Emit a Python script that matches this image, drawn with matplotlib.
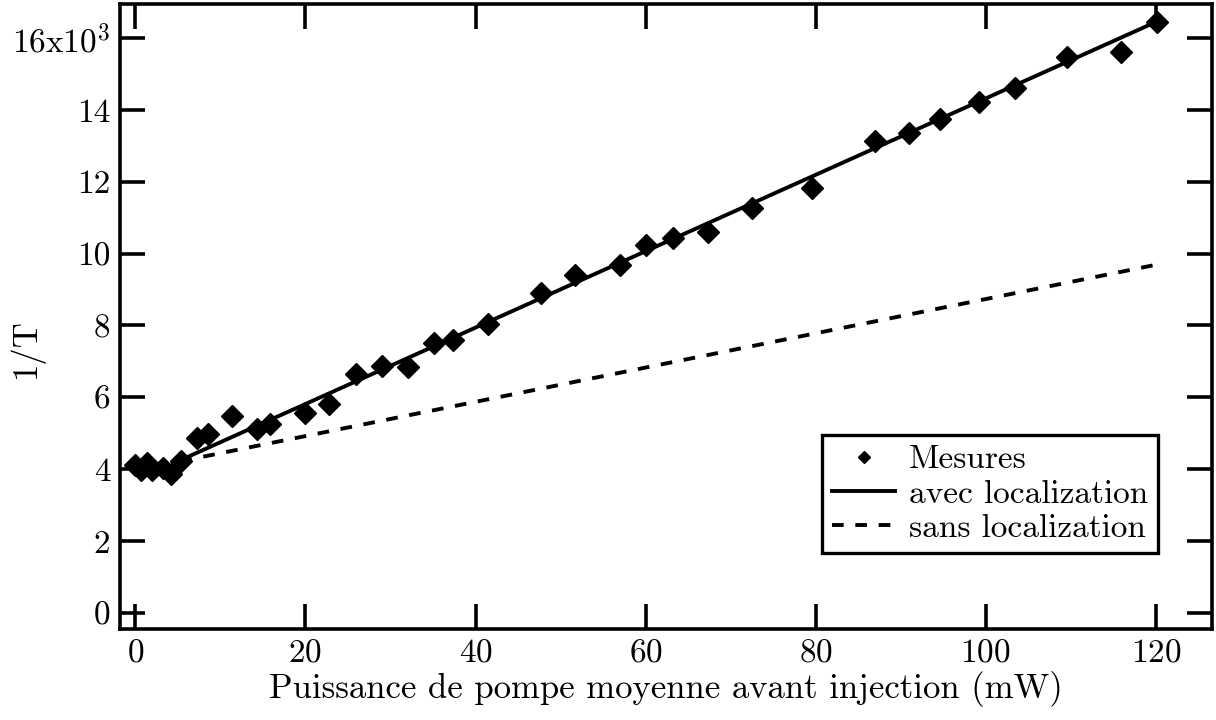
import numpy as np
import matplotlib
matplotlib.use("Agg")
import matplotlib.pyplot as plt
from matplotlib.ticker import FuncFormatter

plt.rcParams['font.family'] = 'cmr10'
plt.rcParams['mathtext.fontset'] = 'cm'
plt.rcParams['axes.formatter.use_mathtext'] = True

# puissance de pompe (mW) et 1/T (en unites de 10^3)
puissance = [0.0, 0.7, 1.4, 2.0, 3.3, 4.2, 5.4, 7.3, 8.5, 11.4, 14.3, 15.8,
             19.9, 22.8, 25.9, 29.0, 32.1, 35.1, 37.3, 41.5, 47.7, 51.7,
             57.0, 60.0, 63.2, 67.3, 72.5, 79.6, 87.0, 91.0, 94.6, 99.2,
             103.4, 109.6, 115.9, 120.1]
inv_T = [4.11, 3.97, 4.17, 3.97, 4.03, 3.87, 4.23, 4.87, 4.98, 5.48, 5.12,
         5.26, 5.57, 5.81, 6.65, 6.87, 6.84, 7.51, 7.60, 8.04, 8.91, 9.41,
         9.69, 10.24, 10.44, 10.60, 11.27, 11.83, 13.14, 13.36, 13.75, 14.23,
         14.62, 15.48, 15.62, 16.45]

# modeles
p_modele = [5.3, 120.0]
avec_loc = [4.25, 16.45]
sans_loc = [4.22, 9.69]

fig = plt.figure(figsize=(12.16, 7.2), dpi=100)
ax = fig.add_axes([0.0987, 0.1264, 0.898, 0.868])

ax.plot(puissance, inv_T, 'kD', markersize=11, label='Mesures', linestyle='none')
ax.plot(p_modele, avec_loc, 'k-', lw=2.8, label='avec localization')
ax.plot(p_modele, sans_loc, 'k', lw=2.8, linestyle=(0, (3, 3)), label='sans localization')

ax.set_xlim(-1.8, 126.6)
ax.set_ylim(-0.45, 16.95)
ax.set_xticks(np.arange(0, 121, 20))
ax.set_yticks(np.arange(0, 17, 2))


def ylab(v, pos):
    if abs(v - 16) < 1e-6:
        return r'16x10$^{3}$'
    return '%d' % v


ax.yaxis.set_major_formatter(FuncFormatter(ylab))

for s in ax.spines.values():
    s.set_linewidth(2.6)
ax.tick_params(which='major', direction='in', length=18, width=2.6,
               top=True, right=True, labelsize=24, pad=7)

ax.set_xlabel('Puissance de pompe moyenne avant injection (mW)', fontsize=25, labelpad=2)
ax.set_ylabel('1/T', fontsize=25)
ax.yaxis.set_label_coords(-0.07, 0.45)

leg = ax.legend(loc='lower right', bbox_to_anchor=(0.9505, 0.1216), borderaxespad=0,
                fontsize=24, fancybox=False, framealpha=1, edgecolor='black',
                markerscale=0.55, handlelength=1.9, labelspacing=0.15,
                handletextpad=0.4, borderpad=0.3)
leg.get_frame().set_linewidth(2.4)

fig.savefig('out.png', dpi=100)
